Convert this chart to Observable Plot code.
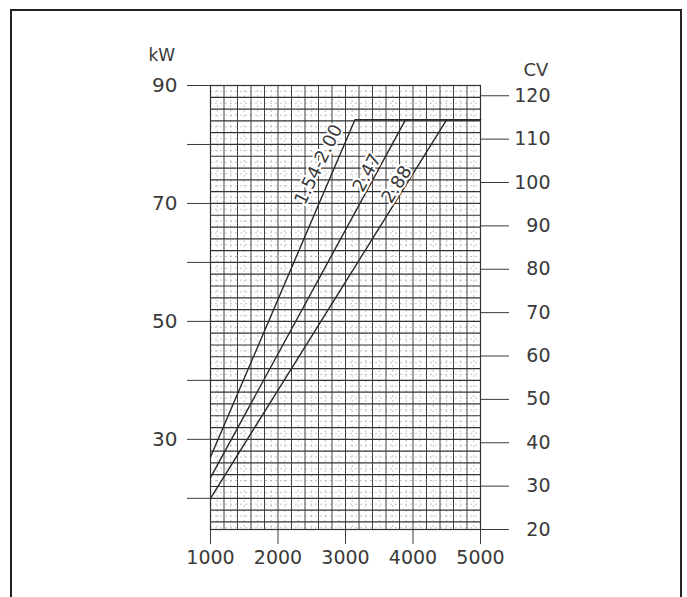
<!DOCTYPE html>
<html>
<head>
<meta charset="utf-8">
<script src="https://cdn.jsdelivr.net/npm/d3@7"></script>
<script src="https://cdn.jsdelivr.net/npm/@observablehq/plot@0.6"></script>
<style>
  html, body { margin: 0; padding: 0; background: #fff; }
  #wrap { position: relative; width: 687px; height: 597px; overflow: hidden; }
  #border { position: absolute; left: 10px; top: 9px; width: 672px; height: 600px;
            border: 2px solid #222; box-sizing: border-box; pointer-events: none; }
  #chart { position: absolute; left: 0; top: 0; }
</style>
</head>
<body>
<div id="wrap"><div id="chart"></div><div id="border"></div></div>
<script>
// ---- data ----
const seriesNames = ["1.54-2.00", "2.47", "2.88"];
const startRpm = 1000;
const startKw = [27, 23.5, 20];          // kW at 1000 rpm
const breakRpm = [3140, 3890, 4500];     // rpm where max power is reached
const maxKw = 84.2;                      // max power plateau (kW)
const endRpm = 5000;
const labelRpm = [2600, 3320, 3760];     // label anchor positions
const labelKw = [76.6, 75.2, 73.2];
const labelAngle = [-64, -62, -58];

const xTicks = [1000, 2000, 3000, 4000, 5000];
const kwTicks = [20, 30, 40, 50, 60, 70, 80, 90];
const kwLabeled = [30, 50, 70, 90];
const cvTicks = [20, 30, 40, 50, 60, 70, 80, 90, 100, 110, 120];
const CV_TO_KW = 0.7355;

const xMajor = d3.range(1000, 5001, 200);
const xMinor = d3.range(1100, 5000, 200);
const yMajor = d3.range(16, 90.1, 2);
const yMinor = d3.range(15, 90, 2);

const lines = seriesNames.flatMap((name, i) => [
  {name, rpm: startRpm, kw: startKw[i]},
  {name, rpm: breakRpm[i], kw: maxKw},
  {name, rpm: endRpm, kw: maxKw}
]);
const labels = seriesNames.map((name, i) => ({name, rpm: labelRpm[i], kw: labelKw[i], a: labelAngle[i]}));

const font = "DejaVu Sans, sans-serif";
const ink = "#3a3a3a";

const chart = Plot.plot({
  width: 687,
  height: 597,
  marginLeft: 210,
  marginRight: 207,
  marginTop: 85,
  marginBottom: 68,
  style: {fontFamily: font, background: "transparent", color: ink},
  x: {type: "linear", domain: [1000, 5000]},
  y: {type: "linear", domain: [14.71, 90]},
  marks: [
    // minor grid
    Plot.ruleX(xMinor, {stroke: "#aaa", strokeWidth: 0.7, strokeDasharray: "2,3"}),
    Plot.ruleY(yMinor, {stroke: "#aaa", strokeWidth: 0.7, strokeDasharray: "2,3"}),
    // major grid
    Plot.ruleX(xMajor, {stroke: "#444", strokeWidth: 1}),
    Plot.ruleY(yMajor, {stroke: "#333", strokeWidth: 1.2}),
    Plot.frame({stroke: "#333", strokeWidth: 1.2}),
    // power curves
    Plot.line(lines, {x: "rpm", y: "kw", z: "name", curve: "linear", stroke: "#2a2a2a", strokeWidth: 1.4}),
    // line labels
    ...labels.map(l => Plot.text([l], {
      x: "rpm", y: "kw", text: "name", rotate: l.a,
      fontSize: 18, fill: ink, stroke: "white", strokeWidth: 4, fontFamily: font
    })),
    // bottom axis
    Plot.axisX({ticks: xTicks, tickSize: 15, tickPadding: 6, fontSize: 19, label: null,
      tickFormat: d => String(d), stroke: ink, fill: ink}),
    // left axis (kW)
    Plot.axisY({anchor: "left", ticks: kwTicks, tickSize: 23, tickPadding: 10, fontSize: 20,
      label: null, tickFormat: d => kwLabeled.includes(d) ? String(d) : "", stroke: ink, fill: ink}),
    // right axis (CV)
    Plot.axisY({anchor: "right", ticks: cvTicks.map(c => c * CV_TO_KW), tickSize: 28,
      tickPadding: 42, textAnchor: "end", fontSize: 19, label: null,
      tickFormat: d => String(Math.round(d / CV_TO_KW)), stroke: ink, fill: ink}),
    // unit labels
    Plot.text(["kW"], {frameAnchor: "top-left", dx: -62, dy: -37, fontSize: 17, fill: ink, textAnchor: "start"}),
    Plot.text(["CV"], {frameAnchor: "top-right", dx: 43, dy: -22, fontSize: 18, fill: ink, textAnchor: "start"})
  ]
});
document.getElementById("chart").appendChild(chart);
</script>
</body>
</html>
